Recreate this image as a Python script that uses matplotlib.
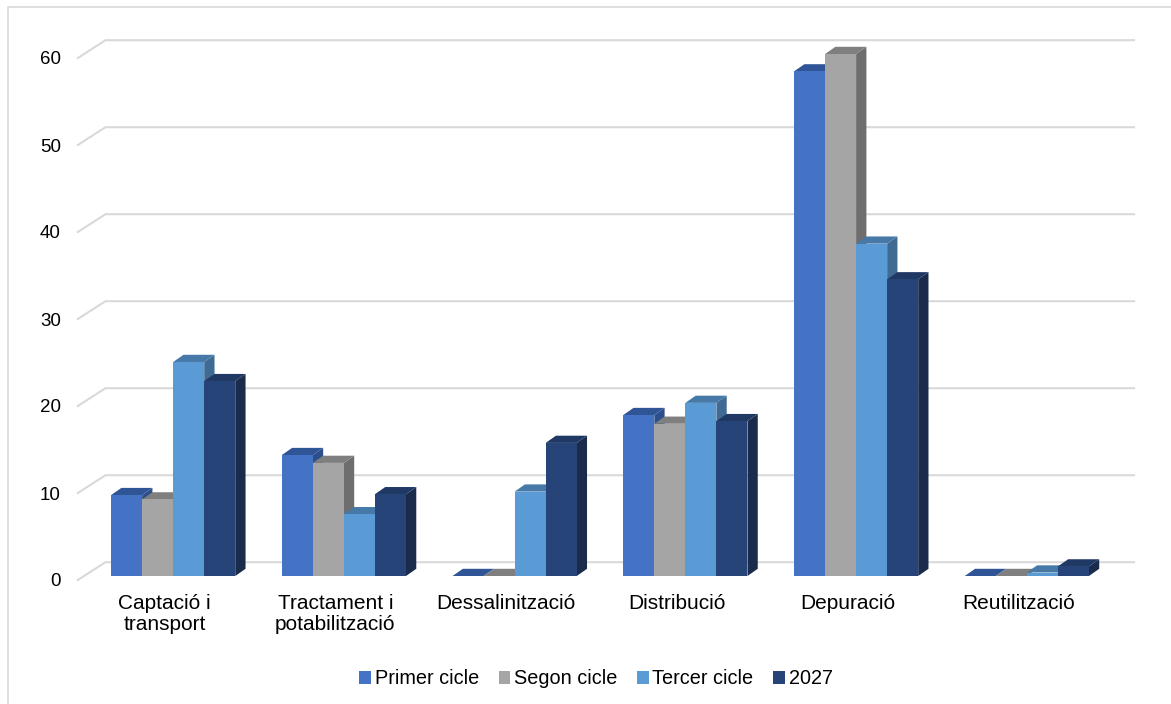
import matplotlib.pyplot as plt
from matplotlib.patches import Polygon, Patch
from matplotlib.lines import Line2D
from matplotlib.transforms import ScaledTranslation

plt.rcParams["font.family"] = ["Liberation Sans", "DejaVu Sans"]

## data
categories = ["Captació i\ntransport", "Tractament i\npotabilització", "Dessalinització",
              "Distribució", "Depuració", "Reutilització"]
series_names = ["Primer cicle", "Segon cicle", "Tercer cicle", "2027"]
primer_cicle = [9.3, 13.9, 0.0, 18.5, 58.0, 0.0]
segon_cicle = [8.8, 13.0, 0.0, 17.5, 60.0, 0.0]
tercer_cicle = [24.6, 7.1, 9.7, 19.9, 38.2, 0.4]
any_2027 = [22.4, 9.4, 15.3, 17.8, 34.1, 1.1]
y_ticks = [0, 10, 20, 30, 40, 50, 60]

## colours: front face, top face, side face
front_colors = ["#4472C4", "#A5A5A5", "#5B9BD5", "#264478"]
top_colors = ["#2F5597", "#7F7F7F", "#4679A8", "#1F3864"]
side_colors = ["#2C4F8C", "#6E6E6E", "#3E6A93", "#1A2B4C"]

W, H = 1171, 704
fig = plt.figure(figsize=(W / 100, H / 100), dpi=100)

## axes in the "bar front" plane
ax_left, ax_right = 87.8, 1112.2
ax_base, ax_top = 576.0, 19.2
y_max = 64
ax = fig.add_axes([ax_left / W, (H - ax_base) / H, (ax_right - ax_left) / W, (ax_base - ax_top) / H])
ax.set_xlim(-0.5, 5.5)
ax.set_ylim(0, y_max)
for s in ax.spines.values():
    s.set_visible(False)

px_x = (ax_right - ax_left) / 6.0
px_y = (ax_base - ax_top) / y_max

## depth offsets converted from pixels to data units
bar_dx, bar_dy = 10.3 / px_x, 7.2 / px_y
back_dx, back_dy = 17.7 / px_x, 13.8 / px_y
front_dx, front_dy = -10.0 / px_x, -4.0 / px_y
grid_end = (1134 - 17.7 - ax_left) / px_x - 0.5

## gridlines on the back wall plus the floor diagonal on the left
for v in y_ticks:
    ax.plot([-0.5 + front_dx, -0.5 + back_dx, grid_end + back_dx],
            [v + front_dy, v + back_dy, v + back_dy],
            color="#D9D9D9", lw=1.5, zorder=1, clip_on=False, solid_joinstyle="miter")

## 3d-looking clustered bars
all_series = [primer_cicle, segon_cicle, tercer_cicle, any_2027]
bar_w = 1 / 5.5
offsets = [-1.5, -0.5, 0.5, 1.5]
z = 2
for i in range(len(categories)):
    for j, vals in enumerate(all_series):
        v = vals[i]
        xc = i + offsets[j] * bar_w
        l, r = xc - bar_w / 2, xc + bar_w / 2
        side = Polygon([(r, 0), (r + bar_dx, bar_dy), (r + bar_dx, v + bar_dy), (r, v)],
                       closed=True, facecolor=side_colors[j], edgecolor="none", zorder=z, clip_on=False)
        top = Polygon([(l, v), (r, v), (r + bar_dx, v + bar_dy), (l + bar_dx, v + bar_dy)],
                      closed=True, facecolor=top_colors[j], edgecolor="none", zorder=z, clip_on=False)
        ax.add_patch(side)
        ax.add_patch(top)
        ax.bar(xc, v, width=bar_w, color=front_colors[j], linewidth=0, zorder=z, clip_on=False)
        z += 1

## axis labels
ax.set_xticks([])
ax.set_yticks(y_ticks)
ax.set_yticklabels([str(t) for t in y_ticks], fontsize=13.5, color="#000000")
ax.tick_params(axis="y", length=0, pad=19.3)
for lab in ax.get_yticklabels():
    lab.set_transform(lab.get_transform() + ScaledTranslation(0, -0.04, fig.dpi_scale_trans))

cat_offset = ax.transData + ScaledTranslation(-0.085, -0.18, fig.dpi_scale_trans)
for i, name in enumerate(categories):
    ax.text(i, 0, name, transform=cat_offset, ha="center", va="top",
            fontsize=15, linespacing=1.15, color="#000000")

## legend
handles = [Patch(facecolor=c, edgecolor="none") for c in front_colors]
fig.legend(handles, series_names, loc="center", ncol=4, frameon=False,
           bbox_to_anchor=(596 / W, 1 - 679 / H), fontsize=14.3,
           handlelength=0.57, handleheight=0.57, handletextpad=0.2, columnspacing=1.0)

## chart-area border (left and top edges visible)
fig.add_artist(Line2D([7.5 / W, 7.5 / W, 1.0], [0.0, 1 - 6.5 / H, 1 - 6.5 / H],
                      transform=fig.transFigure, color="#D9D9D9", lw=1.2))

fig.savefig("out.png", dpi=100)
